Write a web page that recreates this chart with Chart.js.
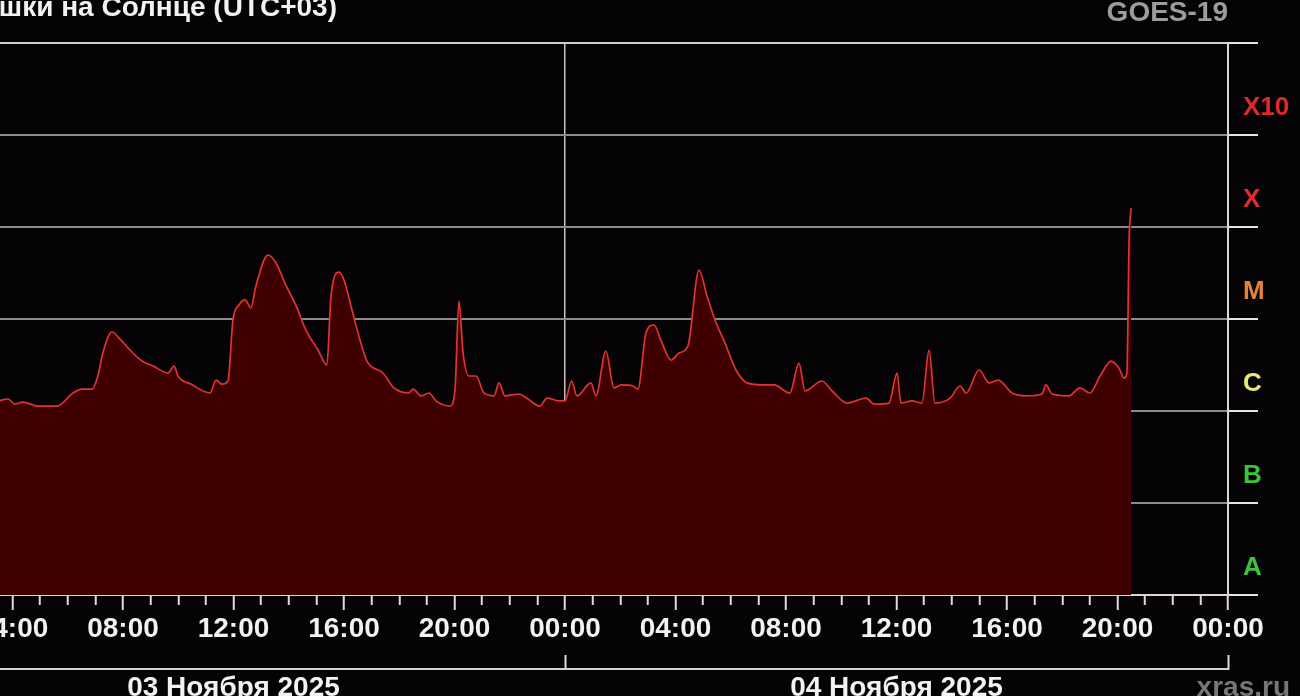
<!DOCTYPE html>
<html>
<head>
<meta charset="utf-8">
<script src="https://cdn.jsdelivr.net/npm/chart.js@4.4.1/dist/chart.umd.min.js"></script>
<style>
html, body { margin:0; padding:0; background:#050305; overflow:hidden; width:1300px; height:696px; }
#wrap { position:relative; width:1300px; height:696px; overflow:hidden; }
#chart { position:absolute; left:-130px; top:0; }
.txt { position:absolute; font-family:"Liberation Sans", Arial, sans-serif; font-weight:bold; font-size:28px; line-height:28px; white-space:nowrap; }
#title { right:963px; top:-7px; color:#f2f2f2; }
#sat { right:72px; top:-2px; color:#9c9c9c; }
#site { right:10px; top:673px; color:#777; }
</style>
</head>
<body>
<div id="wrap">
  <canvas id="chart" width="1430" height="720"></canvas>
  <div class="txt" id="title">Вспышки на Солнце (UTC+03)</div>
  <div class="txt" id="sat">GOES-19</div>
  <div class="txt" id="site">xras.ru</div>
</div>
<script>
// hours since 03 Nov 00:00 (UTC+03)
const hours = [3.5, 3.83, 4.09, 4.38, 4.92, 5.61, 6.19, 6.52, 6.88, 7.09, 7.27, 7.60, 7.86, 8.25, 8.69, 9.09, 9.63, 9.85, 9.99, 10.46,
  11.15, 11.37, 11.58, 11.80, 11.98, 12.20, 12.42, 12.63, 12.81, 13.25, 13.54, 13.86, 14.30, 14.62, 15.06, 15.38, 15.53, 15.82, 16.00, 16.29,
  16.58, 16.83, 17.41, 17.81, 18.35, 18.50, 18.79, 19.08, 19.33, 19.84, 20.02, 20.16, 20.31, 20.53, 20.78, 21.07, 21.43, 21.61, 21.83, 22.33,
  22.66, 23.09, 23.35, 23.78, 24.00, 24.24, 24.43, 24.94, 25.12, 25.48, 25.77, 26.03, 26.46, 26.64, 26.93, 27.22, 27.47, 27.84, 28.13, 28.45,
  28.85, 29.14, 29.43, 29.79, 30.19, 30.59, 31.17, 31.57, 32.14, 32.47, 32.69, 33.30, 33.67, 34.21, 34.90, 35.19, 35.73, 36.02, 36.16, 36.56,
  36.92, 37.18, 37.39, 37.94, 38.30, 38.52, 38.99, 39.35, 39.68, 40.18, 40.72, 41.27, 41.41, 41.63, 42.24, 42.64, 43.00, 43.37, 43.77, 44.05,
  44.24, 44.34, 44.42, 44.49];
// X-ray flux, W/m2
const flux = [1.29e-6, 1.35e-6, 1.19e-6, 1.25e-6, 1.13e-6, 1.13e-6, 1.57e-6, 1.73e-6, 1.73e-6, 2.40e-6, 4.27e-6, 7.22e-6, 6.21e-6, 4.60e-6, 3.49e-6, 3.08e-6, 2.59e-6, 3.08e-6, 2.40e-6, 1.96e-6,
  1.57e-6, 2.17e-6, 1.96e-6, 2.12e-6, 9.75e-6, 1.42e-5, 1.61e-5, 1.32e-5, 2.28e-5, 4.96e-5, 4.06e-5, 2.46e-5, 1.32e-5, 7.59e-6, 4.60e-6, 3.16e-6, 1.78e-5, 3.24e-5, 2.65e-5, 1.25e-5,
  5.91e-6, 3.49e-6, 2.59e-6, 1.78e-6, 1.57e-6, 1.73e-6, 1.46e-6, 1.57e-6, 1.29e-6, 1.13e-6, 1.73e-6, 1.57e-5, 4.27e-6, 2.40e-6, 2.40e-6, 1.57e-6, 1.46e-6, 2.02e-6, 1.46e-6, 1.53e-6,
  1.35e-6, 1.13e-6, 1.38e-6, 1.29e-6, 1.29e-6, 2.12e-6, 1.46e-6, 2.02e-6, 1.46e-6, 4.49e-6, 1.78e-6, 1.92e-6, 1.87e-6, 1.73e-6, 7.04e-6, 8.61e-6, 5.91e-6, 3.58e-6, 4.27e-6, 5.09e-6,
  3.41e-5, 1.78e-5, 9.75e-6, 5.48e-6, 2.79e-6, 2.02e-6, 1.92e-6, 1.92e-6, 1.57e-6, 3.32e-6, 1.65e-6, 2.12e-6, 1.65e-6, 1.22e-6, 1.38e-6, 1.19e-6, 1.22e-6, 2.59e-6, 1.22e-6, 1.29e-6,
  1.22e-6, 4.60e-6, 1.22e-6, 1.38e-6, 1.87e-6, 1.57e-6, 2.79e-6, 2.02e-6, 2.17e-6, 1.57e-6, 1.46e-6, 1.53e-6, 1.92e-6, 1.53e-6, 1.46e-6, 1.78e-6, 1.57e-6, 2.40e-6, 3.49e-6, 2.93e-6,
  2.28e-6, 2.59e-6, 7.22e-5, 1.61e-4];

const hourLabels = ['00:00', '04:00', '08:00', '12:00', '16:00', '20:00', '00:00', '04:00', '08:00', '12:00', '16:00', '20:00', '00:00'];
const dayTicks = [0, 24, 48];
const dayLabels = ['03 Ноября 2025', '04 Ноября 2025', ''];
const classTicks = [1e-8, 1e-7, 1e-6, 1e-5, 1e-4, 1e-3, 1e-2];
const classLabels = ['A', 'B', 'C', 'M', 'X', 'X10', ''];
const classColors = ['#3cc23c', '#3cc23c', '#e8e878', '#e4823c', '#e02c2c', '#dc2a2a', '#dc2a2a'];

const font = "'Liberation Sans', Arial, sans-serif";

// keep the plot edges fixed, labels may hang over
function fixBox(h) {
  return s => { s.height = h; s.paddingLeft = 0; s.paddingRight = 0; };
}

new Chart(document.getElementById('chart').getContext('2d'), {
  type: 'line',
  data: {
    datasets: [{
      data: hours.map((h, i) => ({ x: h, y: flux[i] })),
      borderColor: '#de3434',
      borderWidth: 1.7,
      backgroundColor: '#3e0000',
      fill: 'start',
      pointRadius: 0,
      cubicInterpolationMode: 'monotone',
      xAxisID: 'x',
      yAxisID: 'y'
    }]
  },
  options: {
    responsive: false,
    animation: false,
    devicePixelRatio: 1,
    layout: { padding: { top: 43, left: 32, right: 0, bottom: 0 } },
    plugins: { legend: { display: false }, tooltip: { enabled: false } },
    scales: {
      x: {
        type: 'linear', position: 'bottom', min: 0, max: 48, weight: 0, z: 1,
        afterBuildTicks: s => { s.ticks = Array.from({ length: 49 }, (_, i) => ({ value: i })); },
        afterFit: fixBox(74),
        grid: {
          color: c => (c.tick && c.tick.value === 24) ? '#c4c4c4' : 'rgba(0,0,0,0)',
          lineWidth: 1.5,
          tickColor: '#dcdcdc',
          tickWidth: 2,
          tickLength: 15,
          tickBorderDash: c => (c.tick && c.tick.value % 4 === 0) ? [] : [9, 40]
        },
        border: { display: true, color: '#e2d2d2', width: 2 },
        ticks: {
          autoSkip: false, maxRotation: 0, minRotation: 0, padding: 2,
          color: '#f2f2f2',
          font: { family: font, size: 28, weight: 'bold' },
          callback: v => v % 4 === 0 ? hourLabels[v / 4] : ''
        }
      },
      xd: {
        type: 'linear', position: 'bottom', min: 0, max: 48, weight: 1,
        afterBuildTicks: s => { s.ticks = dayTicks.map(v => ({ value: v })); },
        afterFit: fixBox(51),
        grid: { drawOnChartArea: false, tickLength: -14, tickColor: '#dcdcdc', tickWidth: 2 },
        border: { display: true, color: '#d4d4d4', width: 2 },
        ticks: {
          autoSkip: false, maxRotation: 0, minRotation: 0, padding: 16, labelOffset: 331.5,
          color: '#f2f2f2',
          font: { family: font, size: 28, weight: 'bold' },
          callback: (v, i) => dayLabels[i]
        }
      },
      y: {
        type: 'logarithmic', position: 'right', min: 1e-8, max: 1e-2,
        afterBuildTicks: s => { s.ticks = classTicks.map(v => ({ value: v })); },
        afterFit: s => { s.width = 72; s.paddingTop = 0; s.paddingBottom = 0; },
        grid: {
          color: c => c.index === 6 ? '#cfcfcf' : '#8a8a8a',
          lineWidth: 2,
          tickColor: '#e6e6e6',
          tickLength: 30
        },
        border: { display: true, color: '#d8d8d8', width: 2 },
        ticks: {
          padding: -15, crossAlign: 'near', labelOffset: -27,
          color: c => classColors[c.index],
          font: { family: font, size: 26, weight: 'bold' },
          callback: (v, i) => classLabels[i]
        }
      }
    }
  }
});
</script>
</body>
</html>
